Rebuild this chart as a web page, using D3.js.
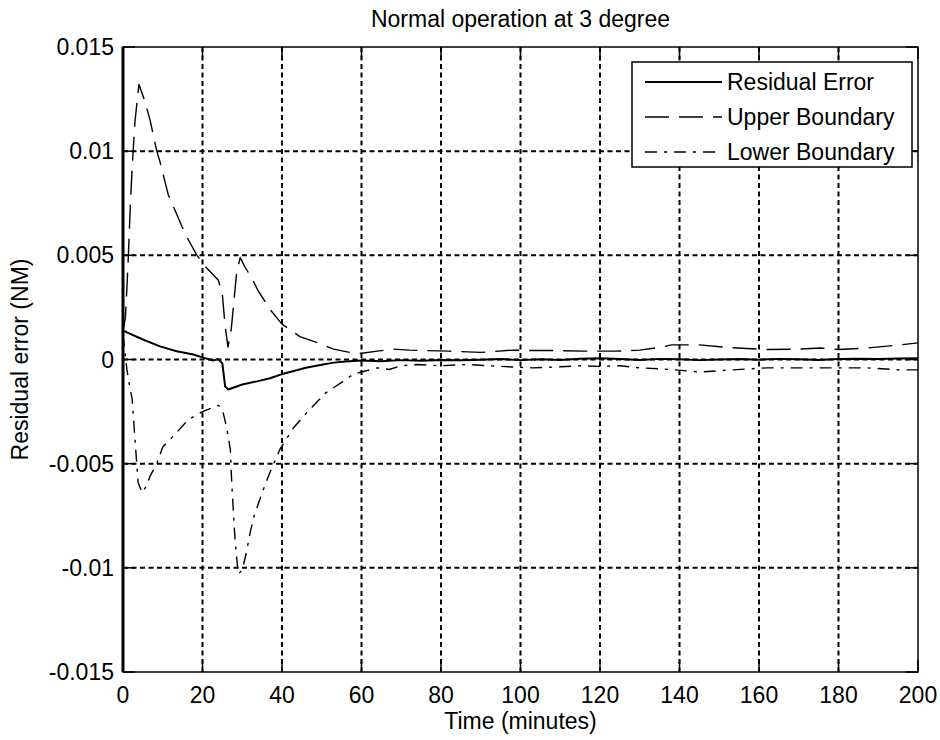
<!DOCTYPE html>
<html>
<head>
<meta charset="utf-8">
<script src="https://cdn.jsdelivr.net/npm/d3@7"></script>
<style>
  body { margin: 0; background: #fff; }
  svg { display: block; font-family: "Liberation Sans", Arial, sans-serif; }
  .tick-label { font-size: 23px; fill: #000; }
</style>
</head>
<body>
<div id="chart"></div>
<script>
// Data (time in minutes, residual in NM)
const residualTime = [0, 1, 5, 9.3, 13.5, 17.7, 20, 22.6, 24, 25, 25.7, 26.5, 30, 33.7, 37, 40, 43, 46, 50, 53, 56,
  60, 65, 70, 75, 80, 85, 90, 95, 100, 105, 110, 115, 120, 125, 130, 135, 140, 145, 150, 155, 160, 165, 170, 175, 180, 185, 190, 195, 200];
const residualValue = [0.0014, 0.0013, 0.00096, 0.00063, 0.0004, 0.00024, 0.0001, -0.00005, 0.00002, -0.0002, -0.0013, -0.00144, -0.0012, -0.00105, -0.0009, -0.0007, -0.00055, -0.0004, -0.00025, -0.00015, -0.0001,
  -0.00005, -0.00008, -0.00003, -0.00006, -0.00002, -0.00004, -0.00001, 0.00002, -0.00003, 0.00001, -0.00002, 0.00004, 0.00006, 0.00002, -0.00002, 0.00003, 0.00001, -0.00003, 0.0, 0.00002, -0.00001, 0.00003, 0.00001, -0.00002, 0.00002, 0.00004, 0.00002, 0.00005, 0.00006];

const upperTime = [0, 0.6, 1.0, 1.4, 1.8, 2.3, 3.0, 4.0, 5.5, 6.8, 8.5, 9.3, 11.4, 13, 14.8, 16, 18.6, 21, 24, 25, 25.7, 26.4, 27.2, 27.9, 28.6, 29.5, 30.5, 32.4, 34, 37, 40, 44.5, 49, 53, 57,
  60, 64, 68, 72, 75.5, 82, 90, 98, 103, 109, 116, 124, 130, 135, 138, 145, 152, 162, 170, 175.5, 180, 187, 195.5, 200];
const upperValue = [0.0014, 0.002, 0.0035, 0.0052, 0.0072, 0.0092, 0.0114, 0.0132, 0.0124, 0.0115, 0.01, 0.0095, 0.0079, 0.0072, 0.0064, 0.0059, 0.005, 0.0044, 0.0038, 0.0031, 0.0016, 0.0006, 0.0014, 0.0028, 0.0042, 0.0049, 0.0045, 0.0039, 0.0033, 0.0024, 0.0017, 0.0011, 0.0008, 0.0005, 0.00034,
  0.0003, 0.0004, 0.0005, 0.00045, 0.00043, 0.0004, 0.00034, 0.00045, 0.00043, 0.00043, 0.0004, 0.0004, 0.00045, 0.00058, 0.0007, 0.0007, 0.00058, 0.00048, 0.0005, 0.00055, 0.00048, 0.00055, 0.0007, 0.0008];

const lowerTime = [0, 0.5, 1, 1.5, 2.3, 3.0, 3.8, 4.8, 5.8, 6.8, 8.5, 10, 13.5, 16.4, 20, 24, 25, 26, 27, 27.4, 28.2, 29, 30, 31, 32, 33, 35, 37, 39.5, 42.8, 46, 48, 51, 55, 58,
  60, 64, 67, 70, 74, 80, 86.5, 92, 97, 103, 110, 115, 120, 125, 130, 135, 139, 145, 153, 162, 170, 178.6, 187, 195.5, 200];
const lowerValue = [0.0012, 0.0003, -0.0005, -0.0011, -0.0019, -0.0038, -0.0059, -0.0064, -0.0061, -0.0056, -0.005, -0.0042, -0.0035, -0.0029, -0.0025, -0.0022, -0.0024, -0.0032, -0.0043, -0.0061, -0.0087, -0.0103, -0.0101, -0.0093, -0.0083, -0.0075, -0.0064, -0.0054, -0.0043, -0.0033, -0.0026, -0.0022, -0.0016, -0.0011, -0.0007,
  -0.0006, -0.0004, -0.00048, -0.0003, -0.00024, -0.0003, -0.00024, -0.0003, -0.00035, -0.0004, -0.00035, -0.0003, -0.00033, -0.0003, -0.0004, -0.00045, -0.0005, -0.0006, -0.0005, -0.0004, -0.0004, -0.0004, -0.0004, -0.0005, -0.0005];

const xTicks = [0, 20, 40, 60, 80, 100, 120, 140, 160, 180, 200];
const yTicks = [-0.015, -0.01, -0.005, 0, 0.005, 0.01, 0.015];
const yTickLabels = ['-0.015', '-0.01', '-0.005', '0', '0.005', '0.01', '0.015'];

const series = [
  { name: 'Residual Error', time: residualTime, value: residualValue, dash: null, width: 2 },
  { name: 'Upper Boundary', time: upperTime, value: upperValue, dash: '24,10', width: 1.4 },
  { name: 'Lower Boundary', time: lowerTime, value: lowerValue, dash: '12,7,3,7', width: 1.4 }
];

// Layout
const W = 940, H = 740;
const PLOT = { LEFT: 123, RIGHT: 918, TOP: 47, BOTTOM: 672 };
const TICK_LEN = 12;

const svg = d3.select('#chart').append('svg')
  .attr('width', W)
  .attr('height', H);

const x = d3.scaleLinear().domain([0, 200]).range([PLOT.LEFT, PLOT.RIGHT]);
const y = d3.scaleLinear().domain([-0.015, 0.015]).range([PLOT.BOTTOM, PLOT.TOP]);

// Grid (dotted lines, drawn as short dashes)
const grid = svg.append('g').attr('class', 'grid');
grid.selectAll('.vgrid')
  .data(xTicks.slice(1, -1))
  .enter().append('line')
  .attr('x1', d => x(d)).attr('x2', d => x(d))
  .attr('y1', PLOT.TOP).attr('y2', PLOT.BOTTOM)
  .attr('stroke', '#000')
  .attr('stroke-width', 2)
  .attr('stroke-dasharray', '5,3.5');
grid.selectAll('.hgrid')
  .data(yTicks.slice(1, -1))
  .enter().append('line')
  .attr('y1', d => y(d)).attr('y2', d => y(d))
  .attr('x1', PLOT.LEFT).attr('x2', PLOT.RIGHT)
  .attr('stroke', '#000')
  .attr('stroke-width', 2)
  .attr('stroke-dasharray', '5,3.5');

// Inward tick marks on all four sides
const ticks = svg.append('g').attr('stroke', '#000').attr('stroke-width', 1.5);
xTicks.forEach(t => {
  ticks.append('line').attr('x1', x(t)).attr('x2', x(t)).attr('y1', PLOT.BOTTOM).attr('y2', PLOT.BOTTOM - TICK_LEN);
  ticks.append('line').attr('x1', x(t)).attr('x2', x(t)).attr('y1', PLOT.TOP).attr('y2', PLOT.TOP + TICK_LEN);
});
yTicks.forEach(t => {
  ticks.append('line').attr('y1', y(t)).attr('y2', y(t)).attr('x1', PLOT.LEFT).attr('x2', PLOT.LEFT + TICK_LEN);
  ticks.append('line').attr('y1', y(t)).attr('y2', y(t)).attr('x1', PLOT.RIGHT).attr('x2', PLOT.RIGHT - TICK_LEN);
});

// Series
const line = d3.line()
  .x(d => x(d[0]))
  .y(d => y(d[1]));

series.forEach(s => {
  svg.append('path')
    .datum(d3.zip(s.time, s.value))
    .attr('fill', 'none')
    .attr('stroke', '#000')
    .attr('stroke-width', s.width)
    .attr('stroke-dasharray', s.dash)
    .attr('stroke-linejoin', 'round')
    .attr('d', line);
});

// Axes box
svg.append('rect')
  .attr('x', PLOT.LEFT).attr('y', PLOT.TOP)
  .attr('width', PLOT.RIGHT - PLOT.LEFT)
  .attr('height', PLOT.BOTTOM - PLOT.TOP)
  .attr('fill', 'none')
  .attr('stroke', '#000')
  .attr('stroke-width', 1.5);
svg.append('line')
  .attr('x1', PLOT.LEFT).attr('x2', PLOT.LEFT)
  .attr('y1', PLOT.TOP).attr('y2', PLOT.BOTTOM)
  .attr('stroke', '#000')
  .attr('stroke-width', 3);

// Tick labels
svg.selectAll('.xlab')
  .data(xTicks)
  .enter().append('text')
  .attr('class', 'tick-label')
  .attr('x', d => x(d))
  .attr('y', 703)
  .attr('text-anchor', 'middle')
  .text(d => d);

svg.selectAll('.ylab')
  .data(yTicks)
  .enter().append('text')
  .attr('class', 'tick-label')
  .attr('x', PLOT.LEFT - 9)
  .attr('y', d => y(d) + 8)
  .attr('text-anchor', 'end')
  .text((d, i) => yTickLabels[i]);

// Title and axis labels
svg.append('text')
  .attr('x', (PLOT.LEFT + PLOT.RIGHT) / 2)
  .attr('y', 27)
  .attr('text-anchor', 'middle')
  .style('font-size', '23px')
  .text('Normal operation at 3 degree');

svg.append('text')
  .attr('x', (PLOT.LEFT + PLOT.RIGHT) / 2)
  .attr('y', 729)
  .attr('text-anchor', 'middle')
  .style('font-size', '23px')
  .text('Time (minutes)');

svg.append('text')
  .attr('transform', `translate(28, ${(PLOT.TOP + PLOT.BOTTOM) / 2}) rotate(-90)`)
  .attr('text-anchor', 'middle')
  .style('font-size', '23px')
  .text('Residual error (NM)');

// Legend
const LEG = { LEFT: 632, TOP: 62, RIGHT: 912, BOTTOM: 167, ROW: 35 };
const legend = svg.append('g');
legend.append('rect')
  .attr('x', LEG.LEFT).attr('y', LEG.TOP)
  .attr('width', LEG.RIGHT - LEG.LEFT)
  .attr('height', LEG.BOTTOM - LEG.TOP)
  .attr('fill', '#fff')
  .attr('stroke', '#000')
  .attr('stroke-width', 1.5);

series.forEach((s, i) => {
  const cy = LEG.TOP + 20 + i * LEG.ROW;
  legend.append('line')
    .attr('x1', 645).attr('x2', 722)
    .attr('y1', cy).attr('y2', cy)
    .attr('stroke', '#000')
    .attr('stroke-width', s.width)
    .attr('stroke-dasharray', s.dash);
  legend.append('text')
    .attr('x', 727)
    .attr('y', cy + 8)
    .style('font-size', '23px')
    .text(s.name);
});
</script>
</body>
</html>
